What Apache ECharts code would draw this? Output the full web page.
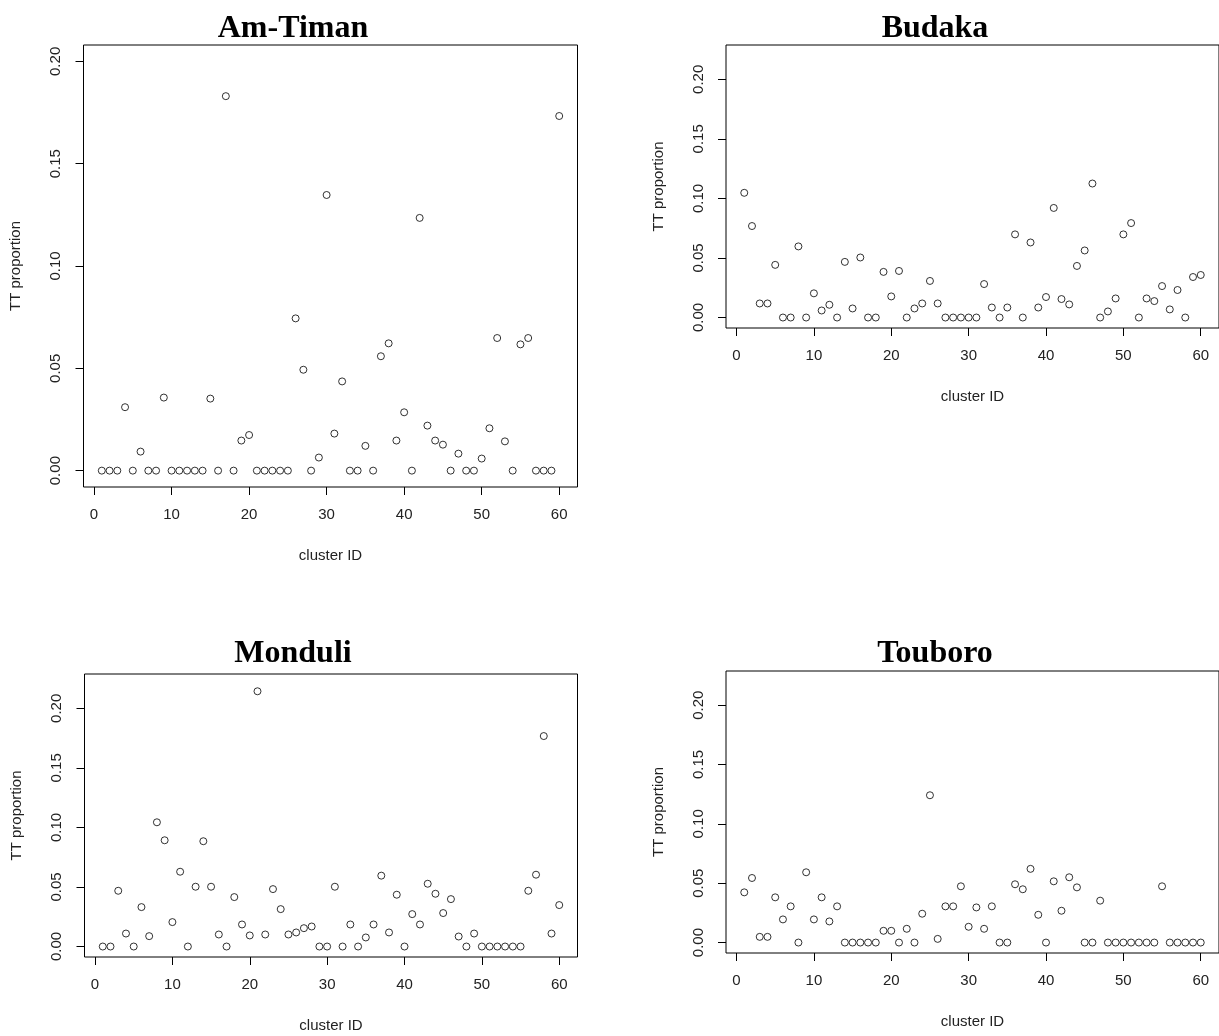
<!DOCTYPE html>
<html>
<head>
<meta charset="utf-8">
<script src="https://cdn.jsdelivr.net/npm/echarts@6/dist/echarts.min.js"></script>
<style>
html,body{margin:0;padding:0;background:#fff;}
#chart{width:1219px;height:1036px;}
</style>
</head>
<body>
<div id="chart"></div>
<script>
// ---- data ----
var clusterIds = [1,2,3,4,5,6,7,8,9,10,11,12,13,14,15,16,17,18,19,20,21,22,23,24,25,26,27,28,29,30,
  31,32,33,34,35,36,37,38,39,40,41,42,43,44,45,46,47,48,49,50,51,52,53,54,55,56,57,58,59,60];

var siteNames = ["Am-Timan", "Budaka", "Monduli", "Touboro"];

var amTiman = [0,0,0,0.031,0,0.0093,0,0,0.0357,0,
  0,0,0,0,0.0352,0,0.183,0,0.0147,0.0174,
  0,0,0,0,0,0.0744,0.0493,0,0.0064,0.1347,
  0.0181,0.0436,0,0,0.0121,0,0.0559,0.0622,0.0147,0.0285,
  0,0.1235,0.022,0.0147,0.0127,0,0.0083,0,0,0.0059,
  0.0207,0.0648,0.0143,0,0.0617,0.0648,0,0,0,0.1733];

var budaka = [0.1047,0.0768,0.0118,0.0118,0.0442,0,0,0.0597,0,0.0203,
  0.0059,0.0107,0,0.0467,0.0076,0.0504,0,0,0.0383,0.0177,
  0.0391,0,0.0076,0.0118,0.0307,0.0118,0,0,0,0,
  0,0.0281,0.0084,0,0.0084,0.0698,0,0.063,0.0084,0.0172,
  0.092,0.0155,0.011,0.0433,0.0563,0.1125,0,0.0051,0.016,0.0698,
  0.0793,0,0.016,0.0138,0.0264,0.0068,0.0231,0,0.034,0.0357];

var monduli = [0,0,0.0468,0.0109,0,0.0331,0.0087,0.1043,0.0892,0.0205,
  0.0628,0,0.0502,0.0884,0.0502,0.0101,0,0.0415,0.0185,0.0093,
  0.2143,0.0101,0.0482,0.0314,0.0101,0.0118,0.0154,0.0168,0,0,
  0.0502,0,0.0185,0,0.0076,0.0185,0.0595,0.0118,0.0435,0,
  0.0272,0.0185,0.0527,0.0443,0.0281,0.0398,0.0084,0,0.0109,0,
  0,0,0,0,0,0.0468,0.0603,0.1767,0.0109,0.0348];

var touboro = [0.0423,0.0544,0.0048,0.0048,0.0381,0.0195,0.0305,0,0.0592,0.0195,
  0.0381,0.0178,0.0305,0,0,0,0,0,0.0099,0.0099,
  0,0.0116,0,0.0243,0.1241,0.0031,0.0305,0.0305,0.0474,0.0133,
  0.0296,0.0116,0.0305,0,0,0.0491,0.0449,0.0621,0.0234,0,
  0.0516,0.0268,0.055,0.0465,0,0,0.0353,0,0,0,
  0,0,0,0,0.0474,0,0,0,0,0];

var xTicks = [0,10,20,30,40,50,60];
var yTicks = [0,0.05,0.10,0.15,0.20];
var xAxisTitle = "cluster ID";
var yAxisTitle = "TT proportion";

// ---- layout ----
var seriesValues = [amTiman, budaka, monduli, touboro];
var grids = [
  {left:83.5, top:45, width:494, height:442, ymin:-0.008, ymax:0.208, tx:288, ty:8},
  {left:726, top:45, width:495, height:283, ymin:-0.0088, ymax:0.2288, tx:930, ty:8},
  {left:84.5, top:674, width:493, height:283, ymin:-0.0088, ymax:0.2288, tx:288, ty:633},
  {left:726, top:671, width:495, height:282, ymin:-0.0088, ymax:0.2288, tx:930, ty:633}
];

var font = "'Liberation Sans', Arial, sans-serif";
var option = {
  animation:false,
  backgroundColor:'#fff',
  title:[], grid:[], xAxis:[], yAxis:[], series:[]
};

grids.forEach(function(g, i){
  option.title.push({
    text: siteNames[i], left: g.tx, top: g.ty, textAlign:'center',
    textStyle:{fontFamily:"'Liberation Serif','Times New Roman',serif", fontWeight:'bold', fontSize:32, color:'#000'}
  });
  option.grid.push({left:g.left, top:g.top, width:g.width, height:g.height, show:true,
    borderColor:'#000', borderWidth:1, backgroundColor:'transparent', containLabel:false});
  option.xAxis.push({
    type:'value', gridIndex:i, min:-1.36, max:62.36,
    splitLine:{show:false}, axisLine:{show:false, onZero:false},
    axisTick:{show:true, inside:false, length:8, lineStyle:{color:'#000', width:1}, customValues:xTicks},
    axisLabel:{show:true, margin:20, fontSize:15, fontFamily:font, color:'#222', customValues:xTicks,
      formatter:function(v){return String(Math.round(v));}},
    name:xAxisTitle, nameLocation:'middle', nameGap:61,
    nameTextStyle:{fontSize:15, fontFamily:font, color:'#222'}
  });
  option.yAxis.push({
    type:'value', gridIndex:i, min:g.ymin, max:g.ymax,
    splitLine:{show:false}, axisLine:{show:false, onZero:false},
    axisTick:{show:true, inside:false, length:8, lineStyle:{color:'#000', width:1}, customValues:yTicks},
    axisLabel:{show:true, margin:20, rotate:90, fontSize:15, fontFamily:font, color:'#222', customValues:yTicks,
      formatter:function(v){return v.toFixed(2);}},
    name:yAxisTitle, nameLocation:'middle', nameGap:60, nameRotate:90,
    nameTextStyle:{fontSize:15, fontFamily:font, color:'#222'}
  });
  option.series.push({
    type:'scatter', xAxisIndex:i, yAxisIndex:i,
    data: clusterIds.map(function(id, k){ return [id, seriesValues[i][k]]; }),
    symbol:'circle', symbolSize:7,
    itemStyle:{color:'rgba(0,0,0,0)', borderColor:'#000', borderWidth:1},
    emphasis:{disabled:true}
  });
});

var chart = echarts.init(document.getElementById('chart'), null, {renderer:'canvas'});
chart.setOption(option);
</script>
</body>
</html>
